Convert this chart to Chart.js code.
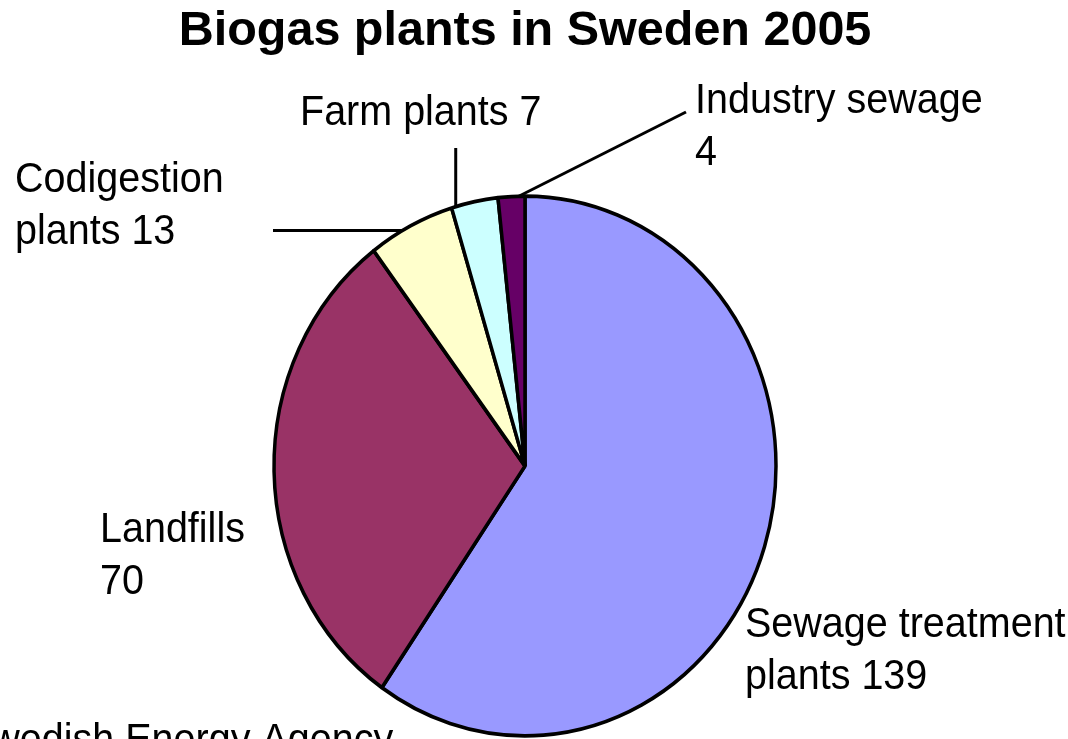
<!DOCTYPE html>
<html>
<head>
<meta charset="utf-8">
<title>Biogas plants in Sweden 2005</title>
<script src="https://cdn.jsdelivr.net/npm/chart.js@4.4.1/dist/chart.umd.min.js"></script>
<style>
    html, body { margin: 0; padding: 0; background: #fff; overflow: hidden; }
    #wrap { width: 1068px; height: 739px; }
</style>
</head>
<body>
<div id="wrap"><canvas id="biogasChart" width="1068" height="739"></canvas></div>
<script>
const chartTitle = 'Biogas plants in Sweden 2005';
const categories = ['Sewage treatment plants', 'Landfills', 'Codigestion plants', 'Farm plants', 'Industry sewage'];
const plantCounts = [139, 70, 13, 7, 4];
const sliceColors = ['#9999FF', '#993366', '#FFFFCC', '#CCFFFF', '#660066'];
const sourceNote = 'Swedish Energy Agency';

// where each label goes and after which word it wraps
const labelSpots = [
    { x: 745, y: 637, breakAfter: 2 },
    { x: 100, y: 542, breakAfter: 1 },
    { x: 15, y: 192, breakAfter: 1 },
    { x: 300, y: 125, breakAfter: 0 },
    { x: 695, y: 113, breakAfter: 2 }
];
// leader lines: slice index, position along the slice edge, outer end
const leaders = [
    { slice: 2, frac: 0.39, toX: 273, toY: null },
    { slice: 3, frac: 0.09, toX: null, toY: 148 },
    { slice: 4, frac: 0.77, toX: 686, toY: 112 }
];

const FONT = '"Liberation Sans", Arial, Helvetica, sans-serif';
const pieStretch = 1.075;   // the picture is a bit taller than wide
const textStretch = 1.1;
const lineGap = 52;

function stretchedText(ctx, text, x, y) {
    ctx.save();
    ctx.translate(x, y);
    ctx.scale(1, textStretch);
    ctx.fillText(text, 0, 0);
    ctx.restore();
}

const sliceLabels = {
    id: 'sliceLabels',
    beforeDatasetsDraw(chart) {
        const arc = chart.getDatasetMeta(0).data[0];
        const ctx = chart.ctx;
        ctx.save();
        ctx.translate(arc.x, arc.y);
        ctx.scale(1, pieStretch);
        ctx.translate(-arc.x, -arc.y);
    },
    afterDatasetsDraw(chart) {
        const ctx = chart.ctx;
        ctx.restore();
        const arcs = chart.getDatasetMeta(0).data;

        ctx.save();
        ctx.strokeStyle = '#000';
        ctx.lineWidth = 3;
        leaders.forEach((l) => {
            const a = arcs[l.slice];
            const ang = a.startAngle + l.frac * (a.endAngle - a.startAngle);
            const r = a.outerRadius;
            const ex = a.x + r * Math.cos(ang);
            const ey = a.y + r * Math.sin(ang) * pieStretch;
            ctx.beginPath();
            ctx.moveTo(l.toX === null ? ex : l.toX, l.toY === null ? ey : l.toY);
            ctx.lineTo(ex, ey);
            ctx.stroke();
        });

        ctx.fillStyle = '#000';
        ctx.font = '39.5px ' + FONT;
        ctx.textAlign = 'left';
        ctx.textBaseline = 'alphabetic';
        categories.forEach((cat, i) => {
            const words = (cat + ' ' + plantCounts[i]).split(' ');
            const spot = labelSpots[i];
            const lines = spot.breakAfter
                ? [words.slice(0, spot.breakAfter).join(' '), words.slice(spot.breakAfter).join(' ')]
                : [words.join(' ')];
            lines.forEach((line, k) => stretchedText(ctx, line, spot.x, spot.y + k * lineGap));
        });
        stretchedText(ctx, sourceNote, -35, 753);
        ctx.restore();
    }
};

new Chart(document.getElementById('biogasChart'), {
    type: 'pie',
    data: {
        labels: categories,
        datasets: [{
            data: plantCounts,
            backgroundColor: sliceColors,
            borderColor: '#000',
            borderWidth: 3.5,
            radius: 251
        }]
    },
    options: {
        responsive: false,
        animation: false,
        events: [],
        layout: { padding: { left: 0, right: 18, top: 0, bottom: 0 } },
        plugins: {
            legend: { display: false },
            tooltip: { enabled: false },
            title: {
                display: true,
                text: chartTitle,
                color: '#000',
                font: { family: FONT, size: 48.5, weight: 'bold', lineHeight: 1.2 },
                padding: { top: 3, bottom: 131.8 }
            }
        }
    },
    plugins: [sliceLabels]
});
</script>
</body>
</html>
